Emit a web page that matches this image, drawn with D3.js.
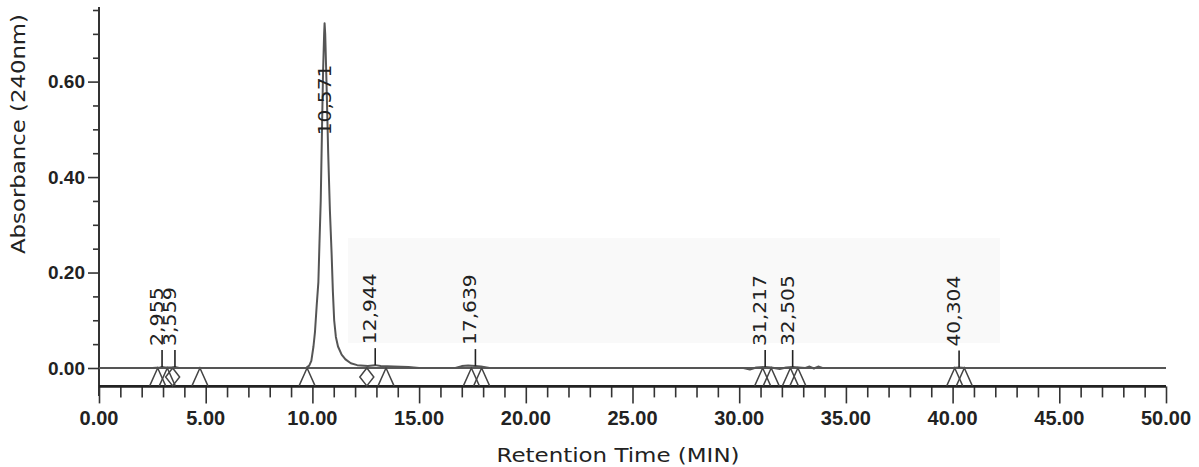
<!DOCTYPE html>
<html>
<head>
<meta charset="utf-8">
<script src="https://cdn.jsdelivr.net/npm/d3@7"></script>
<style>
  body { margin: 0; background: #fff; }
  svg { display: block; }
</style>
</head>
<body>
<div id="chart"></div>
<script>
// chromatogram trace (min, AU)
var traceTimes = [0, 2.5, 2.85, 2.955, 3.1, 3.4, 3.559, 3.75, 4.6, 9.0, 9.7, 9.85, 9.95, 10.05, 10.12, 10.2, 10.28, 10.33, 10.39, 10.45, 10.5, 10.55, 10.571, 10.6, 10.66, 10.74, 10.82, 10.9, 10.96, 11.02, 11.1, 11.2, 11.37, 11.55, 11.8, 12.1, 12.6, 12.944, 13.2, 13.8, 14.5, 15.0, 16.7, 17.0, 17.3, 17.639, 17.9, 18.3, 30.2, 30.5, 30.8, 31.217, 31.5, 31.9, 32.2, 32.505, 32.8, 33.1, 33.3, 33.5, 33.7, 33.9, 34.3, 40.0, 40.304, 40.6, 50];
var traceValues = [0, 0, 0.001, 0.002, 0.001, 0.001, 0.002, 0, 0, 0, 0, 0.005, 0.015, 0.045, 0.075, 0.13, 0.18, 0.26, 0.35, 0.5, 0.62, 0.7, 0.722, 0.7, 0.6, 0.45, 0.33, 0.24, 0.16, 0.1, 0.065, 0.045, 0.028, 0.018, 0.01, 0.006, 0.004, 0.006, 0.004, 0.003, 0.002, 0, 0, 0.004, 0.005, 0.004, 0.003, 0, 0, -0.003, 0.001, 0.002, 0.001, -0.002, 0.001, 0.002, 0.001, 0, 0.003, -0.001, 0.003, 0, 0, 0, 0.001, 0, 0];

// labelled peaks
var peakTimes = [2.955, 3.559, 10.571, 12.944, 17.639, 31.217, 32.505, 40.304];
var peakHeights = [0.002, 0.002, 0.722, 0.006, 0.004, 0.002, 0.002, 0.001];
var peakLabels = ['2,955', '3,559', '10,571', '12,944', '17,639', '31,217', '32,505', '40,304'];

// integration markers under the baseline
var triangleTimes = [2.75, 3.2, 4.73, 9.75, 13.45, 17.45, 17.93, 31.1, 31.5, 32.4, 32.75, 40.1, 40.55];
var diamondTimes = [3.45, 12.55];

// axes
var xTicks = d3.range(0, 51, 1);
var xLabels = [0, 5, 10, 15, 20, 25, 30, 35, 40, 45, 50];
var yTicks = d3.range(0, 0.76, 0.05);
var yLabels = [0, 0.2, 0.4, 0.6];
var axisFloor = -0.0375;

var width = 1199, height = 467;
var svg = d3.select('#chart').append('svg')
    .attr('width', width)
    .attr('height', height);

var x = d3.scaleLinear().domain([0, 50]).range([99, 1166]);
var y = d3.scaleLinear().domain([0, 0.75]).range([368, 10]);

// faint grey patch behind the labels (scan artefact in the original)
svg.append('rect')
    .attr('x', 348).attr('y', 238)
    .attr('width', 652).attr('height', 105)
    .attr('fill', '#f9f9f9');

// y axis
var yAxis = d3.axisLeft(y)
    .tickValues(yTicks)
    .tickSize(0)
    .tickFormat('');
var yg = svg.append('g')
    .attr('transform', 'translate(' + x(0) + ',0)')
    .call(yAxis);
yg.select('.domain').remove();
yg.append('line')
    .attr('x1', 0).attr('x2', 0)
    .attr('y1', 7).attr('y2', 396)
    .attr('stroke', '#333').attr('stroke-width', 2);
yg.selectAll('.tick line')
    .attr('stroke', '#333')
    .attr('stroke-width', 1.6)
    .attr('x2', function(d) {
        return yLabels.some(function(v) { return Math.abs(v - d) < 1e-6; }) ? -11 : -6;
    });
yg.selectAll('.ylab')
    .data(yLabels)
    .enter()
    .append('text')
    .attr('class', 'ylab')
    .attr('x', -14)
    .attr('y', function(d) { return y(d); })
    .attr('dy', '0.36em')
    .attr('text-anchor', 'end')
    .attr('font-family', 'Liberation Sans Narrow, Liberation Sans, Arial, sans-serif')
    .attr('font-weight', 'bold')
    .attr('font-size', 19)
    .attr('fill', '#222')
    .text(function(d) { return d.toFixed(2); });

// x axis sits below the zero line
var xAxis = d3.axisBottom(x)
    .tickValues(xTicks)
    .tickSize(0)
    .tickFormat('');
var xg = svg.append('g')
    .attr('transform', 'translate(0,' + (y(axisFloor) + 0.5) + ')')
    .call(xAxis);
xg.select('.domain').remove();
xg.append('line')
    .attr('x1', x(0)).attr('x2', x(50))
    .attr('y1', 0).attr('y2', 0)
    .attr('stroke', '#222').attr('stroke-width', 2.6);
xg.selectAll('.tick line')
    .attr('stroke', '#333')
    .attr('stroke-width', 1.6)
    .attr('y2', function(d) { return d % 5 === 0 ? 17 : 11; });
xg.selectAll('.xlab')
    .data(xLabels)
    .enter()
    .append('text')
    .attr('class', 'xlab')
    .attr('x', function(d) { return x(d); })
    .attr('y', 39)
    .attr('text-anchor', 'middle')
    .attr('font-family', 'Liberation Sans Narrow, Liberation Sans, Arial, sans-serif')
    .attr('font-weight', 'bold')
    .attr('font-size', 20)
    .attr('fill', '#222')
    .text(function(d) { return d.toFixed(2); });

// zero baseline
svg.append('line')
    .attr('x1', x(0)).attr('x2', x(50))
    .attr('y1', y(0)).attr('y2', y(0))
    .attr('stroke', '#222').attr('stroke-width', 1.6);

// markers
var mTop = y(0), mBot = y(axisFloor);
svg.selectAll('.tri')
    .data(triangleTimes)
    .enter()
    .append('path')
    .attr('class', 'tri')
    .attr('d', function(d) {
        var cx = x(d);
        return 'M' + (cx - 8) + ',' + mBot + 'L' + cx + ',' + mTop + 'L' + (cx + 8) + ',' + mBot;
    })
    .attr('fill', 'none')
    .attr('stroke', '#444')
    .attr('stroke-width', 1.5);
svg.selectAll('.dia')
    .data(diamondTimes)
    .enter()
    .append('path')
    .attr('class', 'dia')
    .attr('d', function(d) {
        var cx = x(d), cy = (mTop + mBot) / 2;
        return 'M' + cx + ',' + mTop + 'L' + (cx + 7) + ',' + cy + 'L' + cx + ',' + mBot + 'L' + (cx - 7) + ',' + cy + 'Z';
    })
    .attr('fill', 'none')
    .attr('stroke', '#444')
    .attr('stroke-width', 1.5);

// trace
var trace = traceTimes.map(function(t, i) { return [t, traceValues[i]]; });
var line = d3.line()
    .x(function(d) { return x(d[0]); })
    .y(function(d) { return y(d[1]); });
svg.append('path')
    .datum(trace)
    .attr('d', line)
    .attr('fill', 'none')
    .attr('stroke', '#555')
    .attr('stroke-width', 2)
    .attr('stroke-linejoin', 'round');

// peak ticks and labels
var maxH = d3.max(peakHeights);
peakTimes.forEach(function(t, i) {
    var px = x(t);
    var main = peakHeights[i] === maxH;
    if (!main) {
        svg.append('line')
            .attr('x1', px).attr('x2', px)
            .attr('y1', y(peakHeights[i])).attr('y2', y(peakHeights[i]) - 17)
            .attr('stroke', '#222').attr('stroke-width', 1.6);
    }
    var ly = main ? y(peakHeights[i] * 0.675) : y(peakHeights[i]) - 21;
    var lx = main ? px + 6 : px + 1;
    svg.append('text')
        .attr('transform', 'translate(' + lx + ',' + ly + ') rotate(-90)')
        .attr('font-family', 'DejaVu Sans, sans-serif')
        .attr('font-size', 17)
        .attr('textLength', peakLabels[i].length * 11.8)
        .attr('lengthAdjust', 'spacingAndGlyphs')
        .attr('fill', '#222')
        .text(peakLabels[i]);
});

// titles
svg.append('text')
    .attr('transform', 'translate(25,134) rotate(-90)')
    .attr('text-anchor', 'middle')
    .attr('font-family', 'DejaVu Sans, sans-serif')
    .attr('font-size', 19)
    .attr('fill', '#222')
    .attr('textLength', 240)
    .attr('lengthAdjust', 'spacingAndGlyphs')
    .text('Absorbance (240nm)');
svg.append('text')
    .attr('x', 618)
    .attr('y', 462)
    .attr('text-anchor', 'middle')
    .attr('font-family', 'DejaVu Sans, sans-serif')
    .attr('font-size', 19)
    .attr('fill', '#222')
    .attr('textLength', 243)
    .attr('lengthAdjust', 'spacingAndGlyphs')
    .text('Retention Time (MIN)');
</script>
</body>
</html>
